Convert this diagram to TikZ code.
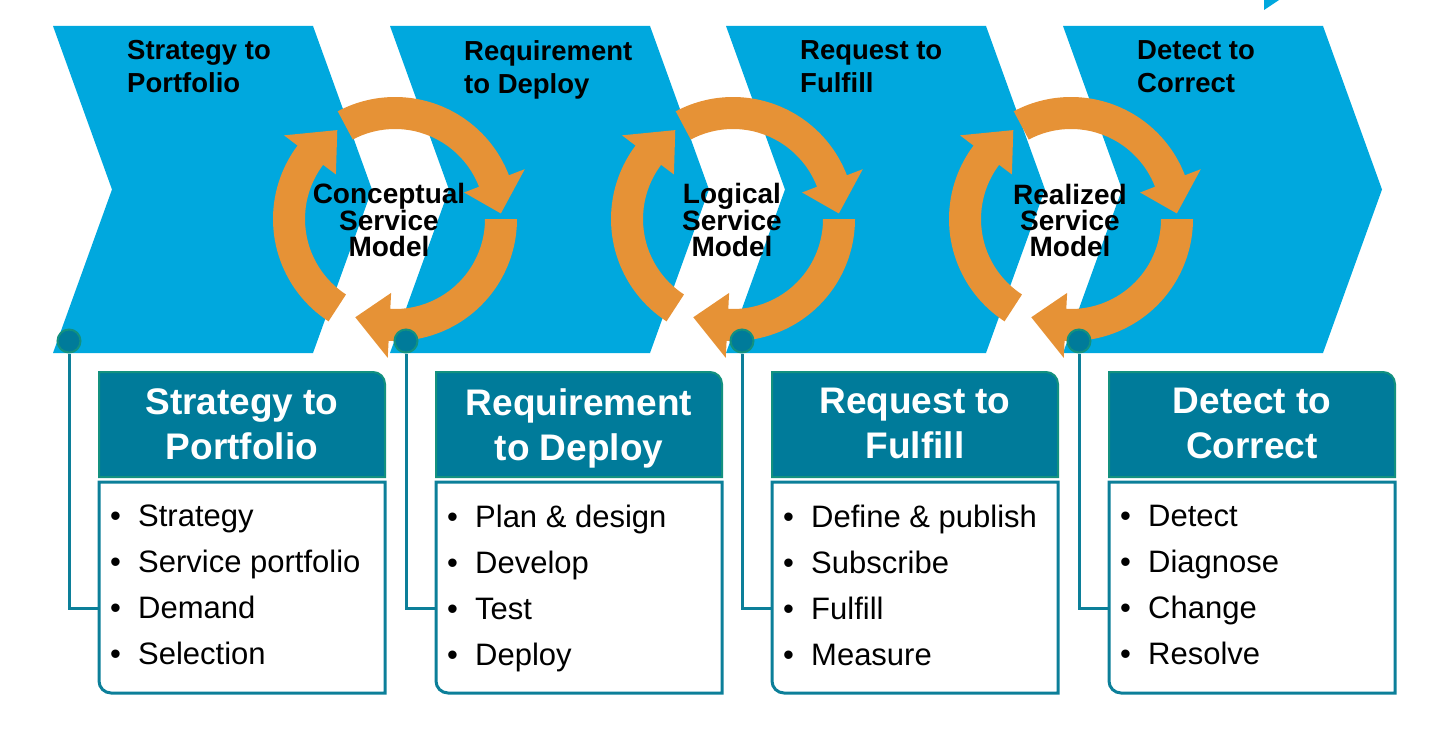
\documentclass[tikz,border=0pt]{standalone}
\usepackage{fontspec}
\setmainfont{Liberation Sans}
\definecolor{chevblue}{HTML}{00A8DE}
\definecolor{ringorange}{HTML}{E69236}
\definecolor{headteal}{HTML}{007B9A}
\definecolor{headedge}{HTML}{13917F}
\definecolor{bodyedge}{HTML}{0C7F99}
\newcommand{\bitem}[1]{\makebox[28pt][l]{\textbullet}#1}
\newcommand{\chevshape}[1]{%
  \fill[chev] (#1,26) -- ++(260,0) -- ++(59,163.5) -- ++(-59,163.5) -- ++(-260,0) -- ++(59,-163.5) -- cycle;}
\newcommand{\ringarr}[4]{%
  \pgfmathsetmacro{\rsa}{-(#2)}%
  \pgfmathsetmacro{\rea}{-(#3)}%
  \pgfmathsetmacro{\rta}{-(#4)}%
  \begin{scope}[shift={(#1,219)}]
  \fill[ring] (\rsa:122) arc[start angle=\rsa, end angle=\rea, radius=122]
    -- (\rea:139) -- (\rta:106) -- (\rea:74) -- (\rea:90)
    arc[start angle=\rea, end angle=\rsa, radius=90] -- cycle;
  \end{scope}}
\newcommand{\cycleset}[1]{%
  \ringarr{#1}{118}{21}{3}
  \ringarr{#1}{0}{-93}{-112}
  \ringarr{#1}{-123}{-217}{-237}}
\newcommand{\headshape}[1]{%
  \draw[headbox] (#1,477) -- (#1,372) -- ++(274,0) arc[start angle=-90, end angle=0, radius=12] -- (#1+286,477) -- cycle;}
\newcommand{\bodyshape}[1]{%
  \draw[bodybox] (#1,482) -- (#1+286,482) -- (#1+286,693) -- (#1+12,693) arc[start angle=90, end angle=180, radius=12] -- cycle;}
\begin{document}
\begin{tikzpicture}[x=1pt,y=-1pt,
  chev/.style={fill=chevblue},
  ring/.style={fill=ringorange},
  chevlbl/.style={font=\fontsize{27.5}{33}\selectfont\bfseries, align=left, inner sep=0, anchor=north west, text=black},
  ringlbl/.style={font=\fontsize{28}{26}\selectfont\bfseries, align=center, inner sep=0, text=black},
  dotnode/.style={circle, fill=headteal, draw=headedge, line width=2pt, minimum size=23pt, inner sep=0},
  conn/.style={draw=bodyedge, line width=3pt},
  headbox/.style={fill=headteal, draw=headedge, line width=2pt},
  bodybox/.style={fill=white, draw=bodyedge, line width=3pt},
  headlbl/.style={font=\fontsize{37}{45}\selectfont\bfseries, text=white, align=center, inner sep=0, anchor=north},
  bodylbl/.style={font=\fontsize{31}{46}\selectfont, align=left, inner sep=0, anchor=north west, text=black}]
\useasboundingbox (0,0) rectangle (1441,752);
% chevrons
\chevshape{53}
\chevshape{390}
\chevshape{726}
\chevshape{1063}
\fill[chev] (1264,0) -- (1264,10) -- (1279,0) -- cycle;
% cycle arrows
\cycleset{395}
\cycleset{733}
\cycleset{1071}
% chevron titles
\node[chevlbl] (c1) at (127,40) {Strategy to\\Portfolio};
\node[chevlbl] (c2) at (464,40) {Requirement\\to Deploy};
\node[chevlbl] (c3) at (800,40) {Request to\\Fulfill};
\node[chevlbl] (c4) at (1137,40) {Detect to\\Correct};
% cycle labels
\node[ringlbl] (m1) at (389,220) {Conceptual\\Service\\Model};
\node[ringlbl] (m2) at (732,220) {Logical\\Service\\Model};
\node[ringlbl] (m3) at (1070,220) {Realized\\Service\\Model};
% connectors
\coordinate (e1) at (99,608);
\coordinate (e2) at (436,608);
\coordinate (e3) at (772,608);
\coordinate (e4) at (1109,608);
\node[dotnode] (d1) at (69,341) {};
\node[dotnode] (d2) at (406,341) {};
\node[dotnode] (d3) at (742,341) {};
\node[dotnode] (d4) at (1079,341) {};
\draw[conn] (d1) |- (e1);
\draw[conn] (d2) |- (e2);
\draw[conn] (d3) |- (e3);
\draw[conn] (d4) |- (e4);
% boxes
\headshape{99}
\headshape{436}
\headshape{772}
\headshape{1109}
\bodyshape{99}
\bodyshape{436}
\bodyshape{772}
\bodyshape{1109}
\node[headlbl] (h1) at (242,388) {Strategy to\\Portfolio};
\node[headlbl] (h2) at (579,388) {Requirement\\to Deploy};
\node[headlbl] (h3) at (915,388) {Request to\\Fulfill};
\node[headlbl] (h4) at (1252,388) {Detect to\\Correct};
\node[bodylbl] (b1) at (110,505) {\bitem{Strategy}\\\bitem{Service portfolio}\\\bitem{Demand}\\\bitem{Selection}};
\node[bodylbl] (b2) at (447,505) {\bitem{Plan \& design}\\\bitem{Develop}\\\bitem{Test}\\\bitem{Deploy}};
\node[bodylbl] (b3) at (783,505) {\bitem{Define \& publish}\\\bitem{Subscribe}\\\bitem{Fulfill}\\\bitem{Measure}};
\node[bodylbl] (b4) at (1120,505) {\bitem{Detect}\\\bitem{Diagnose}\\\bitem{Change}\\\bitem{Resolve}};
\end{tikzpicture}
\end{document}
